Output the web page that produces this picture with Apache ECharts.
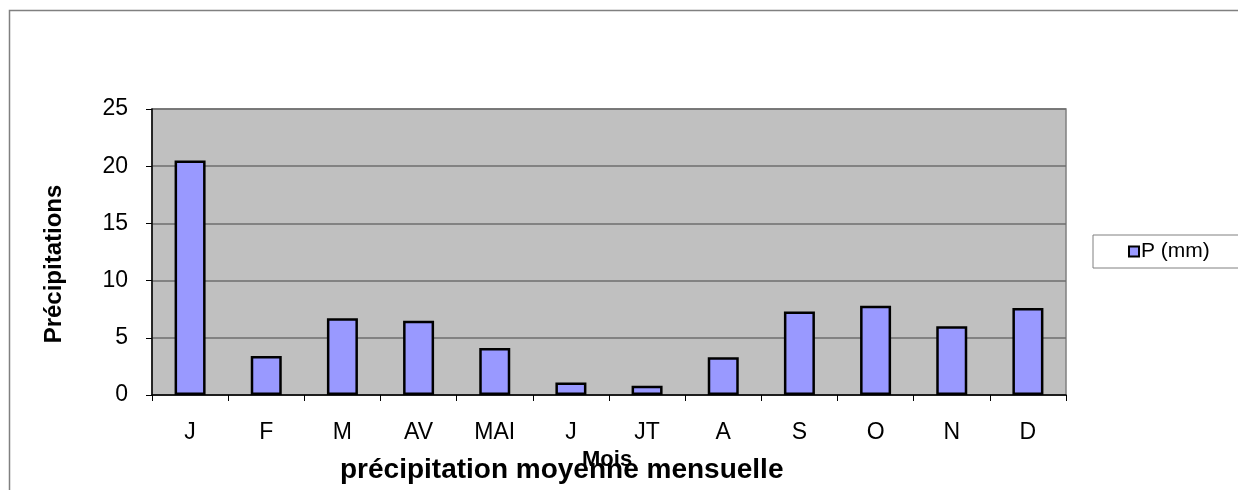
<!DOCTYPE html>
<html>
<head>
<meta charset="utf-8">
<script src="https://cdn.jsdelivr.net/npm/echarts@6/dist/echarts.min.js"></script>
<style>
  html, body { margin: 0; padding: 0; background: #fff; }
  #chart { width: 1238px; height: 490px; }
</style>
</head>
<body>
<div id="chart"></div>
<script>
// données
const mois = ["J", "F", "M", "AV", "MAI", "J", "JT", "A", "S", "O", "N", "D"];
const precipitations = [20.5, 3.4, 6.7, 6.5, 4.1, 1.1, 0.8, 3.3, 7.3, 7.8, 6.0, 7.6];
const nomSerie = "P (mm)";

const police = "Liberation Sans, Arial, sans-serif";
const myChart = echarts.init(document.getElementById("chart"));

const option = {
  animation: false,
  textStyle: { fontFamily: police },
  graphic: [
    {
      type: "rect",
      shape: { x: 9.5, y: 10.5, width: 1400, height: 700 },
      style: { fill: "none", stroke: "#808080", lineWidth: 1.5 },
      silent: true
    },
    {
      type: "text",
      x: 340,
      y: 470,
      style: {
        text: "précipitation moyenne mensuelle",
        font: "bold 28px " + police,
        fill: "#000",
        verticalAlign: "middle"
      }
    },
    {
      type: "text",
      x: 582,
      y: 460,
      style: { text: "Mois", font: "bold 22px " + police, fill: "#000", verticalAlign: "middle" }
    },
    {
      type: "text",
      x: 54,
      y: 264,
      rotation: Math.PI / 2,
      style: {
        text: "Précipitations",
        font: "bold 24px " + police,
        fill: "#000",
        align: "center",
        verticalAlign: "middle"
      }
    }
  ],
  legend: {
    data: [nomSerie],
    left: 1093,
    top: 235,
    padding: [6, 60, 6, 35],
    borderColor: "#808080",
    borderWidth: 1,
    itemWidth: 10,
    itemHeight: 10,
    itemGap: 4,
    icon: "rect",
    textStyle: { fontSize: 21, color: "#000", fontFamily: police, padding: [0, 0, 0, -3] }
  },
  grid: {
    left: 152,
    right: 172,
    top: 109,
    bottom: 95,
    show: true,
    backgroundColor: "#C0C0C0",
    borderColor: "#808080",
    borderWidth: 1.5
  },
  xAxis: {
    type: "category",
    data: mois,
    boundaryGap: true,
    axisLine: { lineStyle: { color: "#000", width: 1.5 } },
    axisTick: { show: true, alignWithLabel: false, length: 6, lineStyle: { color: "#000" } },
    axisLabel: { fontSize: 23, color: "#000", margin: 26, fontFamily: police }
  },
  yAxis: {
    type: "value",
    min: 0,
    max: 25,
    interval: 5,
    axisLine: { show: true, lineStyle: { color: "#000", width: 1.5 } },
    axisTick: { show: true, length: 6, lineStyle: { color: "#000" } },
    axisLabel: { fontSize: 23, color: "#000", margin: 24, fontFamily: police },
    splitLine: { show: true, lineStyle: { color: "#6E6E6E", width: 1.5 } }
  },
  series: [
    {
      name: nomSerie,
      type: "bar",
      data: precipitations,
      barWidth: 31,
      itemStyle: { color: "#9999FF", borderColor: "#000", borderWidth: 2.5 }
    }
  ]
};

myChart.setOption(option);
</script>
</body>
</html>
